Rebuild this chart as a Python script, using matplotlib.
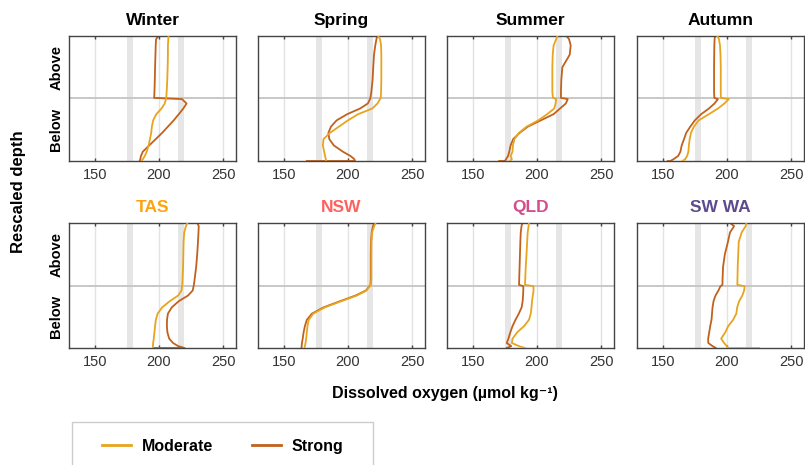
import matplotlib
matplotlib.use("Agg")
import matplotlib.pyplot as plt
from matplotlib.patches import Rectangle
from matplotlib.lines import Line2D

plt.rcParams['font.family'] = ['Liberation Sans', 'DejaVu Sans']

# ---- data ----
depth = [1.00, 0.95, 0.85, 0.70, 0.50, 0.30, 0.10, 0.01, -0.01, -0.08, -0.16,
         -0.25, -0.35, -0.45, -0.55, -0.65, -0.75, -0.85, -0.92, -0.97, -1.00, -1.00]

panel_titles = ["Winter", "Spring", "Summer", "Autumn", "TAS", "NSW", "QLD", "SW WA"]
title_colors = ["black", "black", "black", "black", "#FDA30F", "#FF625E", "#D04E8C", "#5C4B8E"]

winter_moderate = [207.5, 207.3, 207, 207, 206.8, 206.5, 206, 205.7, 205.5, 204.5, 202, 198, 195.5, 194.5, 194, 193, 192, 190.5, 189, 187.5, 186.5, 186.5]
winter_strong = [199.7, 197.8, 197.5, 197.3, 197, 196.8, 196.5, 196.3, 218, 221.5, 219, 215.5, 211.5, 207, 202.5, 197.5, 192.5, 187.5, 186, 185.5, 185, 185]
spring_moderate = [223.5, 225, 225.8, 226, 226, 226, 225.8, 225.5, 225, 223, 219, 208, 200, 193, 186, 181, 180.5, 181.5, 182.2, 182.8, 183, 183]
spring_strong = [222.7, 222.2, 221.3, 220.3, 219.7, 219.2, 218.2, 217.5, 217.2, 215.5, 209.5, 199.5, 191.2, 186.8, 184.8, 185.5, 189, 196, 202, 205, 205.5, 168]
summer_moderate = [216, 215, 213, 212.3, 212, 212, 212, 212.5, 215, 214.5, 213.5, 208, 201, 192, 186, 182.5, 181.3, 181, 179.5, 180.5, 179.2, 179.2]
summer_strong = [223, 225, 226.3, 225.5, 219.8, 219, 218.7, 218.7, 224, 222.5, 218, 213, 203, 193, 186.5, 181.5, 179.5, 178.5, 177.5, 176, 175, 170.6]
autumn_moderate = [192.6, 193.8, 194.6, 195, 195.2, 195.2, 195.2, 195.3, 201.5, 198, 193, 186, 178, 174.3, 172, 171, 170.4, 170, 169, 167.5, 165.5, 165.5]
autumn_strong = [190.8, 190.4, 190.2, 190.1, 190, 190, 190, 190.2, 193, 190.3, 186, 180, 175, 171.5, 168.3, 166.6, 164.8, 163.8, 162, 158.5, 156, 154]
tas_moderate = [222.2, 221, 219.7, 219.2, 219, 218.8, 218.4, 218.2, 218, 217.6, 215, 208.5, 202.5, 199, 197.6, 197, 196.5, 196, 195.5, 195.3, 195.2, 195.2]
tas_strong = [229.9, 231, 230.8, 230.4, 229.8, 229, 227.8, 227.2, 227, 226.3, 222.7, 215.5, 210, 207, 206.3, 206.2, 206.6, 208, 211, 215, 220, 195.5]
nsw_moderate = [221.5, 220.5, 218.8, 218.3, 218.2, 218.2, 218.2, 217.8, 217, 214.5, 207, 195, 182, 173, 169.5, 168.5, 168, 167.5, 167, 166.5, 166.2, 166.2]
nsw_strong = [220.5, 219.5, 218.5, 218, 217.8, 217.8, 217.8, 217.5, 216.8, 214, 206, 194, 181, 172, 168, 166.5, 165.5, 164.8, 164.2, 164, 163.8, 163.8]
qld_moderate = [193.8, 193.5, 192.8, 192.4, 191.9, 191.3, 190.9, 190.7, 197.2, 197.4, 196.8, 196.2, 195.8, 195.2, 193.8, 190, 184.6, 181, 180.5, 186, 190.7, 190.7]
qld_strong = [188.7, 188, 187.4, 187.1, 186.8, 186.5, 186.2, 186.1, 189.4, 189.4, 189.2, 188.9, 188.1, 185.9, 183.3, 181, 179.3, 177.8, 176.5, 180, 176.5, 177]
swwa_moderate = [215.1, 214.6, 211.5, 209.2, 208.8, 208.4, 208.2, 208.1, 213.8, 213.4, 212, 209.5, 208, 207.3, 204.8, 201, 198.7, 195.5, 197.8, 200, 200.5, 225]
swwa_strong = [202.5, 205.6, 202.4, 200.8, 198.4, 197, 196.6, 196.5, 195, 193.4, 191.1, 189.6, 188.8, 188.4, 188, 187, 186.2, 185.4, 185.5, 188.8, 191.3, 191.3]

moderate_series = [winter_moderate, spring_moderate, summer_moderate, autumn_moderate,
                   tas_moderate, nsw_moderate, qld_moderate, swwa_moderate]
strong_series = [winter_strong, spring_strong, summer_strong, autumn_strong,
                 tas_strong, nsw_strong, qld_strong, swwa_strong]

xticks = [150, 200, 250]
bands = [(175, 179.5), (215, 219.5)]
series_names = ["Moderate", "Strong"]
series_colors = ["#E8A41E", "#C0621D"]

# ---- layout ----
W, H = 805, 465
fig = plt.figure(figsize=(W / 100, H / 100), dpi=100)
lefts = [69, 258, 447, 637]
tops = [36, 223]
pw, ph = 167, 125

for i in range(8):
    r, c = divmod(i, 4)
    ax = fig.add_axes([lefts[c] / W, 1 - (tops[r] + ph) / H, pw / W, ph / H])
    for lo, hi in bands:
        ax.axvspan(lo, hi, color="#e6e6e6", lw=0, zorder=0)
    for xt in xticks:
        ax.axvline(xt, color="#e3e3e3", lw=1.0, zorder=0.5)
    ax.axhline(0, color="#c4c4c4", lw=1.3, zorder=1)
    ax.plot(moderate_series[i], depth, color=series_colors[0], lw=1.3, zorder=3)
    ax.plot(strong_series[i], depth, color=series_colors[1], lw=1.3, zorder=2.5)
    ax.set_xlim(130, 260)
    ax.set_ylim(-1, 1)
    ax.set_xticks(xticks)
    ax.set_xticklabels([str(v) for v in xticks], fontsize=10.5, color="#333333")
    ax.tick_params(axis="x", direction="in", length=2.5, top=True, width=1,
                   color="#444444", pad=5)
    if c == 0:
        ax.set_yticks([0.5, -0.5])
        ax.set_yticklabels(["Above", "Below"], rotation=90, va="center",
                           fontsize=10.5, fontweight="bold")
        ax.tick_params(axis="y", length=0, pad=4)
    else:
        ax.set_yticks([])
    for s in ax.spines.values():
        s.set_color("#444444")
        s.set_linewidth(1.0)
    ax.set_title(panel_titles[i], fontsize=12.5, fontweight="bold",
                 color=title_colors[i], pad=8)

fig.text(18 / W, 1 - 192 / H, "Rescaled depth", rotation=90, ha="center",
         va="center", fontsize=12, fontweight="bold")
fig.text(445 / W, 1 - 393 / H, "Dissolved oxygen (µmol kg\u207b\u00b9)", ha="center",
         va="center", fontsize=11.5, fontweight="bold")

# legend
fig.patches.append(Rectangle((72 / W, 1 - 470 / H), 301 / W, 48 / H,
                             transform=fig.transFigure, facecolor="white",
                             edgecolor="#cccccc", lw=1.0))
handles = [Line2D([], [], color=col, lw=2) for col in series_colors]
fig.legend(handles, series_names, loc="center left",
           bbox_to_anchor=(88 / W, 1 - 446 / H), ncol=2, frameon=False,
           prop={"weight": "bold", "size": 11.5}, handlelength=1.8,
           handletextpad=0.7, columnspacing=2.4)

fig.savefig("out.png", dpi=100)
